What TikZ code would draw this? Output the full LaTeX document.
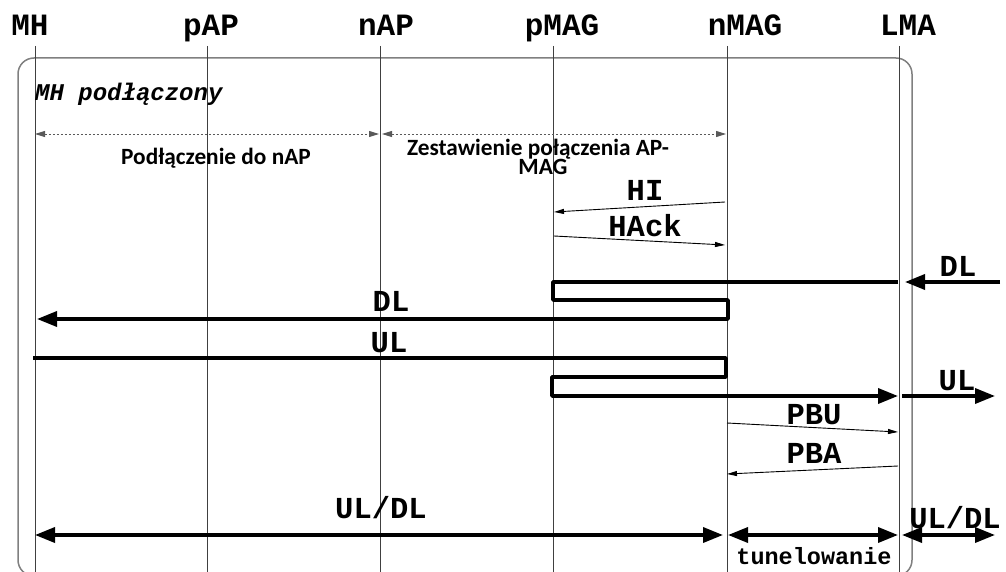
\documentclass[tikz,border=0pt]{standalone}
\usepackage{fontspec}
\setmainfont{Liberation Serif}
\setmonofont{Liberation Mono}
\newfontfamily\calib{Carlito}
\usetikzlibrary{arrows.meta}
\tikzset{
  hdr/.style={font=\ttfamily\bfseries\fontsize{31}{31}\selectfont, inner sep=0pt, anchor=base},
  lbl/.style={font=\ttfamily\bfseries\fontsize{30.5}{30.5}\selectfont, inner sep=0pt},
  smalllbl/.style={font=\ttfamily\bfseries\fontsize{23.5}{23.5}\selectfont, inner sep=0pt},
  statelbl/.style={font=\ttfamily\bfseries\itshape\fontsize{24}{24}\selectfont, inner sep=0pt, anchor=base west},
  sanslbl/.style={font=\calib\bfseries\fontsize{23.3}{23.3}\selectfont, inner sep=0pt},
  life/.style={draw=black!75, line width=1pt},
  frame/.style={draw=black!50, line width=1.5pt, rounded corners=16pt},
  phase/.style={draw=black!65, line width=0.9pt, dash pattern=on 2.5pt off 1.5pt,
    {Triangle[length=10pt,width=6pt]}-{Triangle[length=10pt,width=6pt]}},
  msg/.style={draw=black, line width=0.9pt, -{Triangle[length=10pt,width=5pt]}},
  flow/.style={draw=black, line width=3.5pt, line join=round, -{Triangle[length=20pt,width=15pt]}},
  both/.style={draw=black, line width=3.5pt,
    {Triangle[length=20pt,width=15pt]}-{Triangle[length=20pt,width=15pt]}},
}
\begin{document}
\begin{tikzpicture}[x=1pt,y=-1pt]
\useasboundingbox (0,0) rectangle (1006,572);

% frame
\draw[frame] (18,58) rectangle (912,576);

% headers
\node[hdr] (MH) at (30,36) {MH};
\node[hdr] (pAP) at (211,36) {pAP};
\node[hdr] (nAP) at (386,36) {nAP};
\node[hdr] (pMAG) at (562,36) {pMAG};
\node[hdr] (nMAG) at (745,36) {nMAG};
\node[hdr] (LMA) at (908,36) {LMA};

% lifelines
\foreach \n/\x in {MH/35,pAP/207,nAP/380,pMAG/553,nMAG/727,LMA/899}{
  \coordinate (\n t) at (\x,46);
  \coordinate (\n b) at (\x,572);
  \draw[life] (\n t) -- (\n b);
}

% state
\node[statelbl] (state) at (35,101) {MH podłączony};

% phases
\coordinate (ph1a) at (35,134);
\coordinate (ph1b) at (379,134);
\coordinate (ph2a) at (382,134);
\coordinate (ph2b) at (726,134);
\draw[phase] (ph1a) -- (ph1b);
\draw[phase] (ph2a) -- (ph2b);
\node[sanslbl] (ph1lbl) at (216,158) {Podłączenie do nAP};
\node[sanslbl] (ph2lbl) at (538,149) {Zestawienie połączenia AP-};
\node[sanslbl] (ph2lblb) at (543,167) {MAG};

% HI / HAck
\coordinate (hiA) at (725,202);
\coordinate (hiB) at (554,212);
\draw[msg] (hiA) -- (hiB);
\node[lbl] (hilbl) at (645,190) {HI};
\coordinate (haA) at (554,236);
\coordinate (haB) at (725,245);
\draw[msg] (haA) -- (haB);
\node[lbl] (halbl) at (645,226) {HAck};

% DL
\coordinate (dlIn) at (1000,282);
\coordinate (dlInT) at (905,282);
\draw[flow] (dlIn) -- (dlInT);
\node[lbl] (dlr) at (958,266) {DL};
\coordinate (dl0) at (898,282);
\coordinate (dl1) at (553,282);
\coordinate (dl2) at (553,300);
\coordinate (dl3) at (728,300);
\coordinate (dl4) at (728,319);
\coordinate (dl5) at (37,319);
\draw[flow] (dl0) -- (dl1) -- (dl2) -- (dl3) -- (dl4) -- (dl5);
\node[lbl] (dll) at (391,301) {DL};

% UL
\coordinate (ul0) at (33,358);
\coordinate (ul1) at (726,358);
\coordinate (ul2) at (726,377);
\coordinate (ul3) at (552,377);
\coordinate (ul4) at (552,396);
\coordinate (ul5) at (898,396);
\draw[flow] (ul0) -- (ul1) -- (ul2) -- (ul3) -- (ul4) -- (ul5);
\node[lbl] (ull) at (389,343) {UL};
\coordinate (ulOut) at (902,396);
\coordinate (ulOutT) at (995,396);
\draw[flow] (ulOut) -- (ulOutT);
\node[lbl] (ulr) at (957,381) {UL};

% PBU / PBA
\coordinate (pbuA) at (727,423);
\coordinate (pbuB) at (898,432);
\draw[msg] (pbuA) -- (pbuB);
\node[lbl] (pbulbl) at (814,415) {PBU};
\coordinate (pbaA) at (898,466);
\coordinate (pbaB) at (727,474);
\draw[msg] (pbaA) -- (pbaB);
\node[lbl] (pbalbl) at (814,453) {PBA};

% UL/DL
\coordinate (b0) at (35,535);
\coordinate (b1) at (723,535);
\coordinate (b2) at (728,535);
\coordinate (b3) at (898,535);
\coordinate (b4) at (902,535);
\coordinate (b5) at (995,535);
\draw[both] (b0) -- (b1);
\draw[both] (b2) -- (b3);
\draw[both] (b4) -- (b5);
\node[lbl] (uldl1) at (381,508) {UL/DL};
\node[lbl] (uldl2) at (955,518) {UL/DL};
\node[smalllbl] (tun) at (814,556) {tunelowanie};
\end{tikzpicture}
\end{document}
